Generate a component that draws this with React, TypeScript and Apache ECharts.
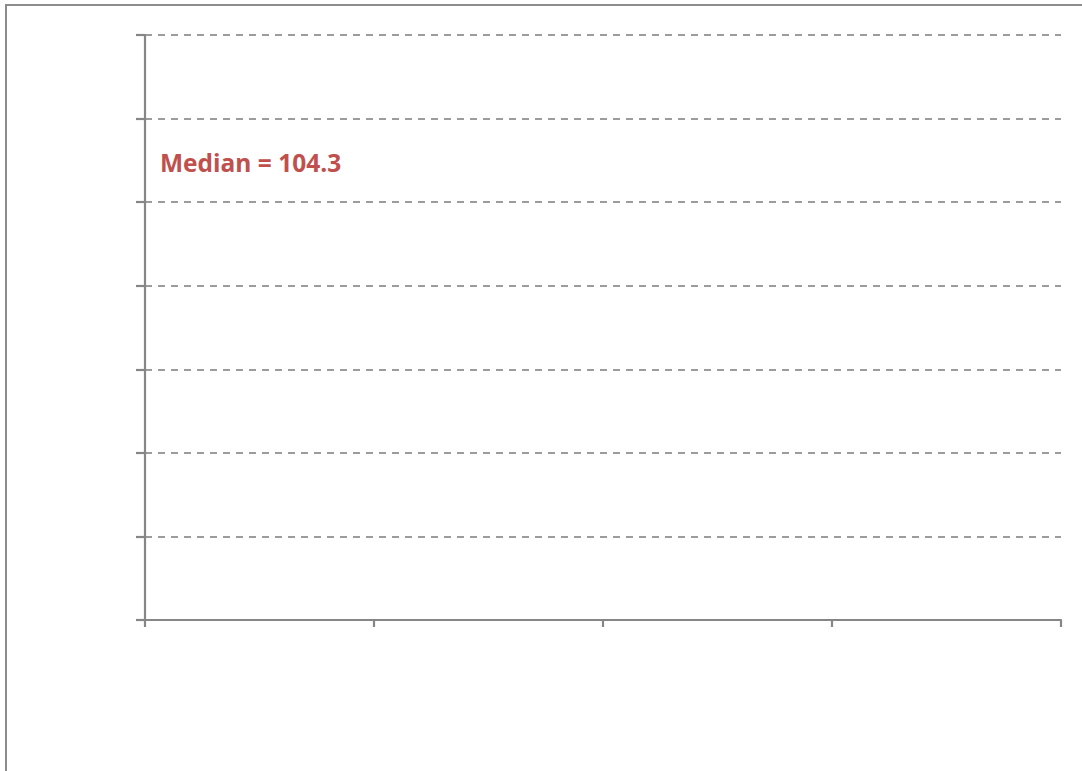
import React, { useEffect, useRef } from "react";
import * as echarts from "echarts";

const xMin = 0;
const xMax = 4;
const xInterval = 1;
const yMin = 0;
const yMax = 7;
const yInterval = 1;
const seriesPoints: [number, number][] = [];
const medianLabel = "Median = 104.3";

export default function App() {
  const ref = useRef<HTMLDivElement>(null);
  useEffect(() => {
    if (!ref.current) return;
    const chart = echarts.init(ref.current, null, { renderer: "svg" });
    const axisColor = "#868686";
    chart.setOption({
      animation: false,
      backgroundColor: "#ffffff",
      grid: { left: 145, top: 35, right: 21, bottom: 151, containLabel: false },
      xAxis: {
        type: "value",
        min: xMin,
        max: xMax,
        interval: xInterval,
        axisLine: { show: true, onZero: false, lineStyle: { color: axisColor, width: 2.2 } },
        axisTick: { show: true, length: 7, lineStyle: { color: axisColor, width: 2.2 } },
        axisLabel: { show: false },
        splitLine: { show: false },
      },
      yAxis: {
        type: "value",
        min: yMin,
        max: yMax,
        interval: yInterval,
        axisLine: { show: true, onZero: false, lineStyle: { color: axisColor, width: 2.2 } },
        axisTick: { show: true, length: 9, lineStyle: { color: axisColor, width: 2.2 } },
        axisLabel: { show: false },
        splitLine: {
          show: true,
          lineStyle: { color: "#9c9c9c", width: 1.8, type: [7, 6] },
        },
      },
      series: [
        {
          type: "scatter",
          data: seriesPoints,
          symbolSize: 6,
        },
      ],
      graphic: [
        {
          type: "rect",
          shape: { x: 6, y: 5, width: 1200, height: 900 },
          style: { fill: "none", stroke: "#8c8c8c", lineWidth: 2 },
          silent: true,
          z: 100,
        },
        {
          type: "text",
          x: 160,
          y: 162,
          style: {
            text: medianLabel,
            fill: "#C0504D",
            font: "bold 24.5px 'Open Sans', sans-serif",
            verticalAlign: "middle",
            align: "left",
          },
          z: 100,
        },
      ],
    });
    return () => chart.dispose();
  }, []);
  return (
    <div
      ref={ref}
      style={{ position: "absolute", left: 0, top: 0, width: 1082, height: 771 }}
    />
  );
}
